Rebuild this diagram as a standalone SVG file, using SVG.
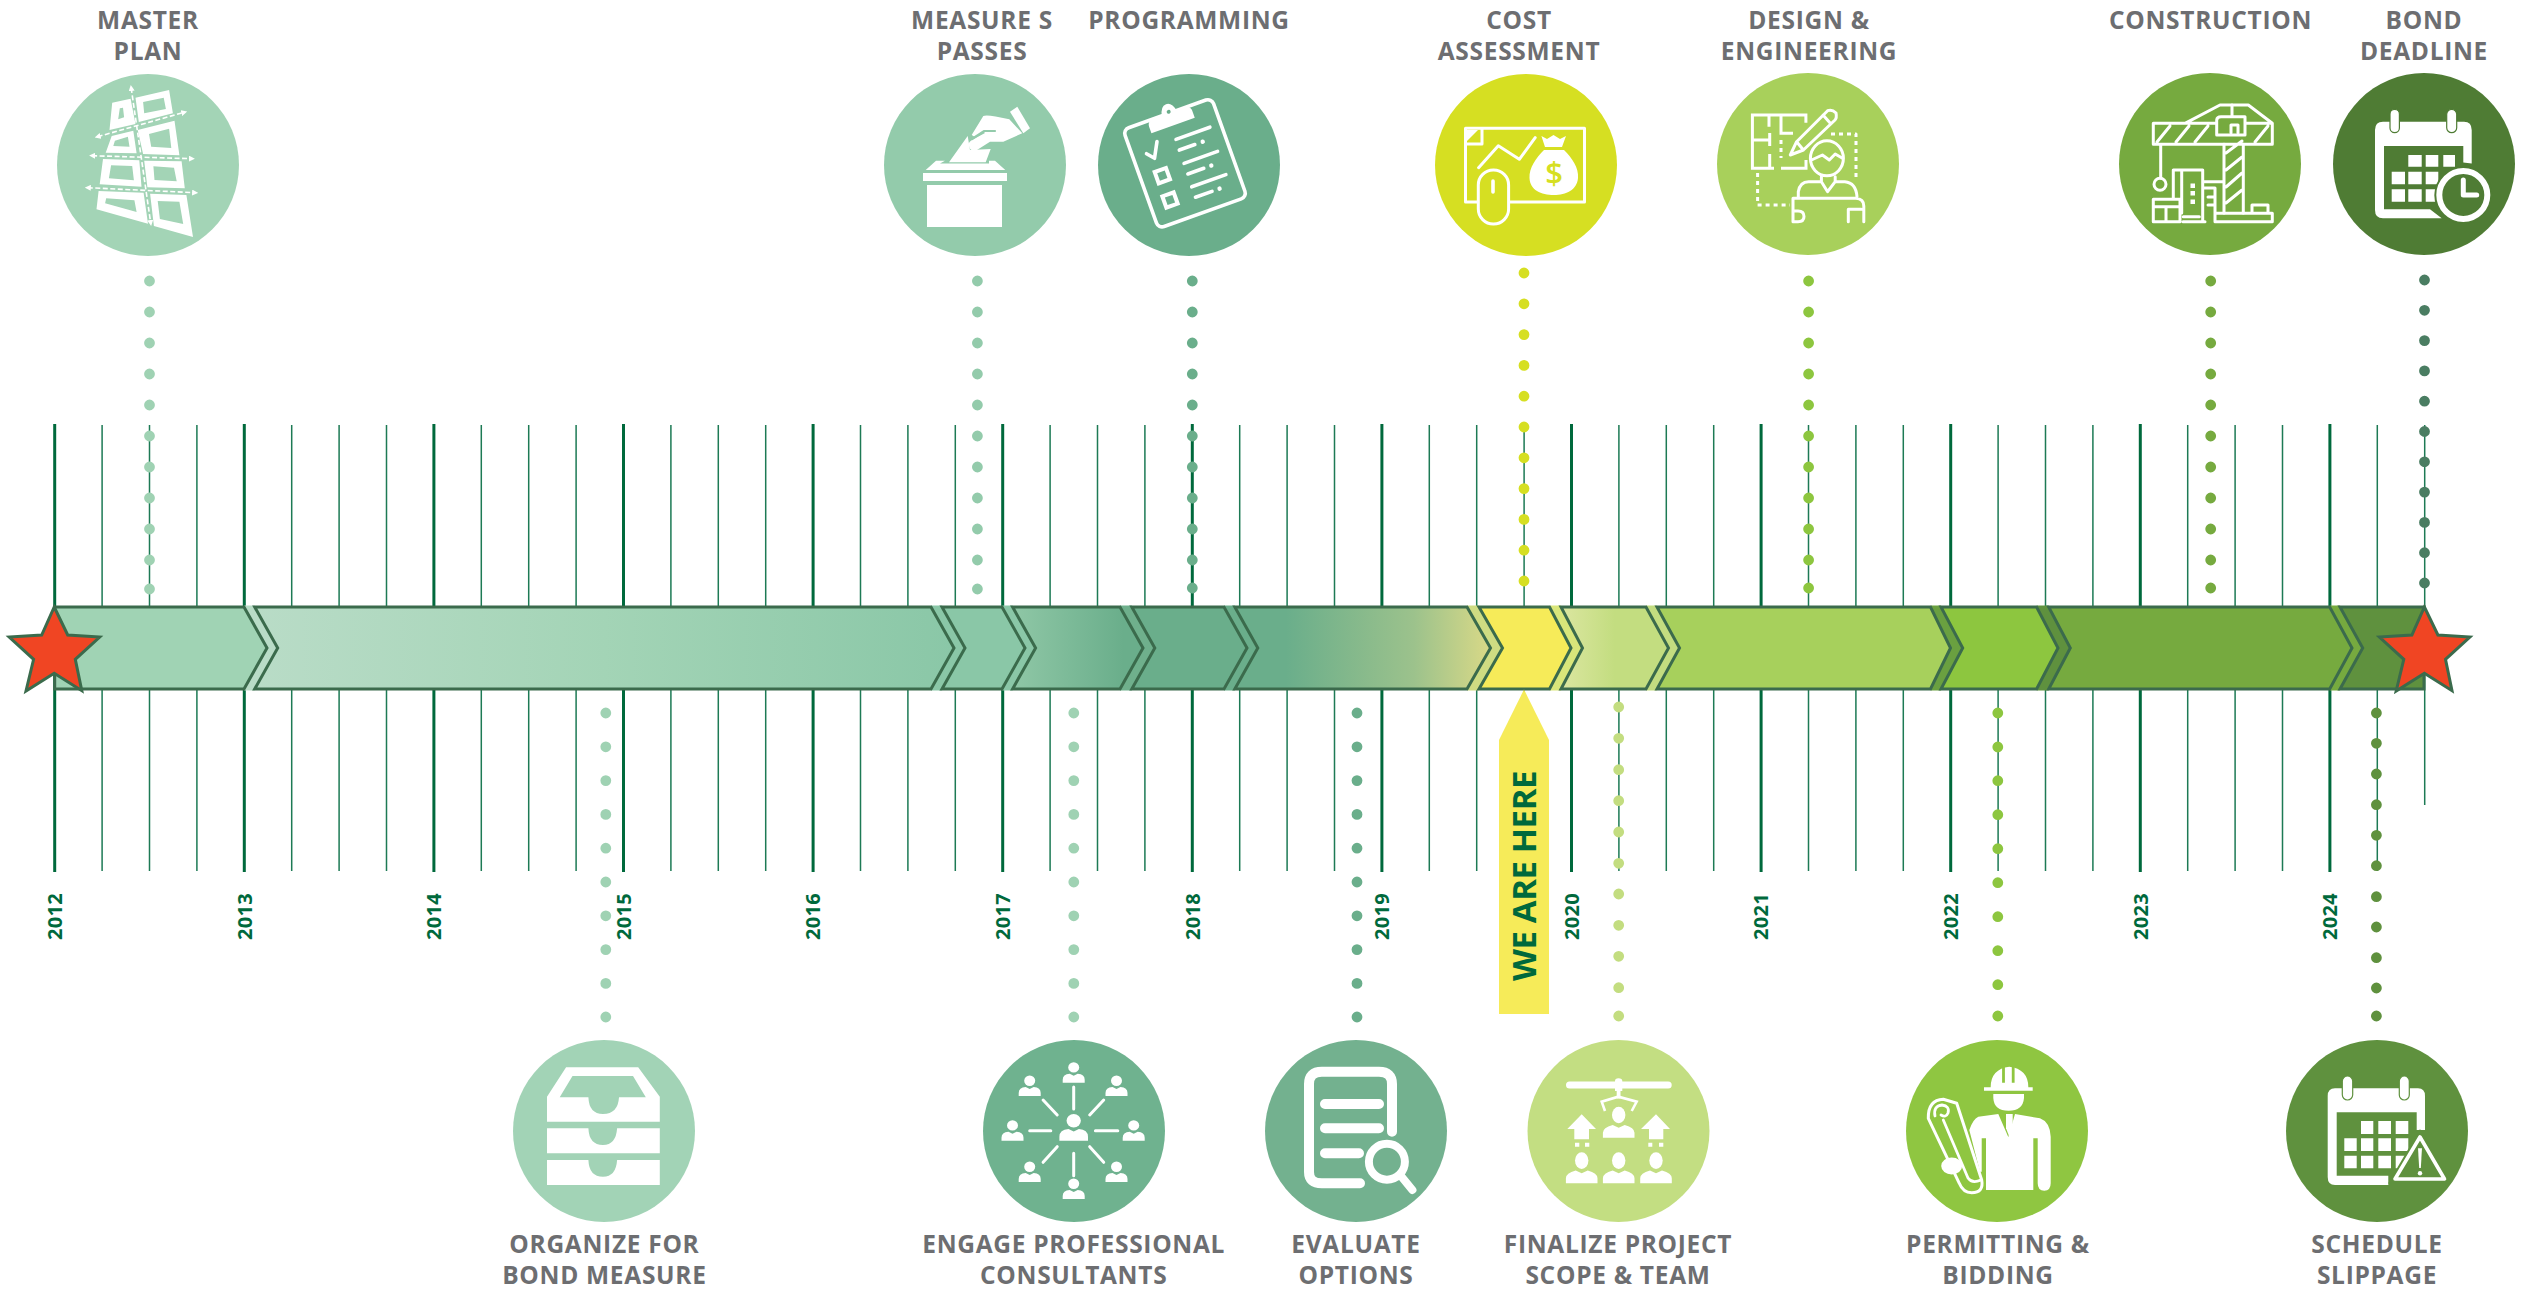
<svg xmlns="http://www.w3.org/2000/svg" width="2524" height="1289" viewBox="0 0 2524 1289">
<style>
text{font-family:"Open Sans","Liberation Sans",sans-serif;font-weight:700}
.lbl{font-size:24.5px;fill:#6d6e71;text-anchor:middle;letter-spacing:.7px}
.yr{font-size:20px;fill:#00693c;letter-spacing:.3px}
.chev{stroke:#3b6b4c;stroke-width:3;stroke-linejoin:miter}
.maj{stroke:#00693c;stroke-width:3;fill:none}
.min{stroke:#1d7a55;stroke-width:1.5;fill:none}
.dots{fill:none;stroke-width:10.8;stroke-linecap:round}
.w{fill:#fff}
.ln{fill:none;stroke:#fff;stroke-width:3;stroke-linecap:round;stroke-linejoin:round}
.road{fill:none;stroke:#fff;stroke-width:1.6;stroke-dasharray:5 2.5;marker-start:url(#ra);marker-end:url(#ra)}
</style>
<defs>
<linearGradient id="g2"><stop offset="0" stop-color="#b9dcc7"/><stop offset=".5" stop-color="#a3d4b6"/><stop offset="1" stop-color="#8ac7a7"/></linearGradient>
<linearGradient id="g4"><stop offset="0" stop-color="#8fc7a6"/><stop offset=".85" stop-color="#6aae8b"/><stop offset="1" stop-color="#6aae8b"/></linearGradient>
<linearGradient id="g6"><stop offset="0" stop-color="#6aae8b"/><stop offset=".2" stop-color="#6aae8b"/><stop offset=".7" stop-color="#9cc28c"/><stop offset="1" stop-color="#d9d987"/></linearGradient>
<linearGradient id="g8"><stop offset="0" stop-color="#dbe6a0"/><stop offset=".5" stop-color="#c3dd80"/></linearGradient>
<marker id="ra" viewBox="0 0 6 6" refX="3" refY="3" markerUnits="userSpaceOnUse" markerWidth="6" markerHeight="6" orient="auto-start-reverse"><path d="M0 0L6 3L0 6Z" fill="#fff"/></marker>
<g id="person"><ellipse cx="0" cy="-15.3" rx="5.5" ry="5.2" fill="#fff"/><path d="M-11 0V-3Q-11 -8.5 -4 -9L0 -7L4 -9Q11 -8.5 11 -3V0Z" fill="#fff"/></g>
<g id="person-lg"><ellipse cx="0" cy="-22.7" rx="6.7" ry="8.3" fill="#fff"/><path d="M-15.8 0V-5Q-15.8 -10 -6 -12.7L0 -10L6 -12.7Q15.8 -10 15.8 -5V0Z" fill="#fff"/></g>
<path id="star" d="M54.2 607L67.7 635L99.7 637L75.3 659.3L81.8 690.7L54.2 673.3L26 691L33.6 659.3L9.2 637L41.7 635Z" fill="#f04523" stroke="#3b6b4c" stroke-width="3" stroke-linejoin="miter"/>
</defs>

<g id="ticks">
<path class="min" d="M102.1 425V871M149.5 425V871M196.9 425V871M291.7 425V871M339.1 425V871M386.5 425V871M481.3 425V871M528.7 425V871M576.1 425V871M670.9 425V871M718.3 425V871M765.7 425V871M860.5 425V871M907.9 425V871M955.3 425V871M1050.1 425V871M1097.5 425V871M1144.9 425V871M1239.7 425V871M1287.1 425V871M1334.5 425V871M1429.3 425V871M1476.7 425V871M1524.1 425V871M1618.9 425V871M1666.3 425V871M1713.7 425V871M1808.5 425V871M1855.9 425V871M1903.3 425V871M1998.1 425V871M2045.5 425V871M2092.9 425V871M2187.7 425V871M2235.1 425V871M2282.5 425V871M2377.3 425V871M2424.7 425V805"/>
<path class="maj" d="M54.7 424V872M244.3 424V872M433.9 424V872M623.5 424V872M813.1 424V872M1002.7 424V872M1192.3 424V872M1381.9 424V872M1571.5 424V872M1761.1 424V872M1950.7 424V872M2140.3 424V872M2329.9 424V872"/>
</g>

<g id="years">
<text class="yr" transform="translate(62 940) rotate(-90)">2012</text>
<text class="yr" transform="translate(251.6 940) rotate(-90)">2013</text>
<text class="yr" transform="translate(441.2 940) rotate(-90)">2014</text>
<text class="yr" transform="translate(630.8 940) rotate(-90)">2015</text>
<text class="yr" transform="translate(820.4 940) rotate(-90)">2016</text>
<text class="yr" transform="translate(1010 940) rotate(-90)">2017</text>
<text class="yr" transform="translate(1199.6 940) rotate(-90)">2018</text>
<text class="yr" transform="translate(1389.2 940) rotate(-90)">2019</text>
<text class="yr" transform="translate(1578.8 940) rotate(-90)">2020</text>
<text class="yr" transform="translate(1768.4 940) rotate(-90)">2021</text>
<text class="yr" transform="translate(1958 940) rotate(-90)">2022</text>
<text class="yr" transform="translate(2147.6 940) rotate(-90)">2023</text>
<text class="yr" transform="translate(2337.2 940) rotate(-90)">2024</text>
</g>

<g id="connectors">
<path class="dots" stroke="#9fd2b3" d="M149.5 281h0M149.5 312h0M149.5 343h0M149.5 374h0M149.5 405h0M149.5 436h0M149.5 467h0M149.5 498h0M149.5 529h0M149.5 560h0M149.5 589h0"/>
<path class="dots" stroke="#93cbab" d="M977.4 281h0M977.4 312h0M977.4 343h0M977.4 374h0M977.4 405h0M977.4 436h0M977.4 467h0M977.4 498h0M977.4 529h0M977.4 560h0M977.4 589h0"/>
<path class="dots" stroke="#6aae8b" d="M1192.3 281h0M1192.3 312h0M1192.3 343h0M1192.3 374h0M1192.3 405h0M1192.3 436h0M1192.3 467h0M1192.3 498h0M1192.3 529h0M1192.3 560h0M1192.3 588h0"/>
<path class="dots" stroke="#d6df22" d="M1524 273h0M1524 303.8h0M1524 334.6h0M1524 365.4h0M1524 396.2h0M1524 427h0M1524 457.8h0M1524 488.6h0M1524 519.4h0M1524 550.2h0M1524 581h0"/>
<path class="dots" stroke="#8dc63f" d="M1808.6 281h0M1808.6 312h0M1808.6 343h0M1808.6 374h0M1808.6 405h0M1808.6 436h0M1808.6 467h0M1808.6 498h0M1808.6 529h0M1808.6 560h0M1808.6 588h0"/>
<path class="dots" stroke="#76aa3f" d="M2210.7 281h0M2210.7 312h0M2210.7 343h0M2210.7 374h0M2210.7 405h0M2210.7 436h0M2210.7 467h0M2210.7 498h0M2210.7 529h0M2210.7 560h0M2210.7 588h0"/>
<path class="dots" stroke="#4a7d62" d="M2424.5 280h0M2424.5 310.3h0M2424.5 340.6h0M2424.5 370.9h0M2424.5 401.2h0M2424.5 431.5h0M2424.5 461.8h0M2424.5 492.1h0M2424.5 522.4h0M2424.5 552.7h0M2424.5 583h0"/>
<path class="dots" stroke="#9fd2b3" d="M605.8 713h0M605.8 746.8h0M605.8 780.6h0M605.8 814.4h0M605.8 848.2h0M605.8 882h0M605.8 915.8h0M605.8 949.6h0M605.8 983.4h0M605.8 1017h0"/>
<path class="dots" stroke="#9fd2b3" d="M1073.8 713h0M1073.8 746.8h0M1073.8 780.6h0M1073.8 814.4h0M1073.8 848.2h0M1073.8 882h0M1073.8 915.8h0M1073.8 949.6h0M1073.8 983.4h0M1073.8 1017h0"/>
<path class="dots" stroke="#6aae8b" d="M1357 713h0M1357 746.8h0M1357 780.6h0M1357 814.4h0M1357 848.2h0M1357 882h0M1357 915.8h0M1357 949.6h0M1357 983.4h0M1357 1017h0"/>
<path class="dots" stroke="#c3dd80" d="M1618.7 707h0M1618.7 738.3h0M1618.7 769.7h0M1618.7 800.7h0M1618.7 832h0M1618.7 863.3h0M1618.7 894h0M1618.7 925.3h0M1618.7 956.3h0M1618.7 987.7h0M1618.7 1016h0"/>
<path class="dots" stroke="#8dc63f" d="M1997.8 713h0M1997.8 747h0M1997.8 780.7h0M1997.8 814.7h0M1997.8 848.7h0M1997.8 882.7h0M1997.8 916.7h0M1997.8 950.7h0M1997.8 984.7h0M1997.8 1016h0"/>
<path class="dots" stroke="#5f913e" d="M2376.4 713h0M2376.4 743.3h0M2376.4 774h0M2376.4 804.7h0M2376.4 835.3h0M2376.4 865.7h0M2376.4 896.7h0M2376.4 927h0M2376.4 957.7h0M2376.4 988h0M2376.4 1016h0"/>
</g>

<g id="timeline-bar">
<path fill="#b9dcc7" d="M244 605.5H254.7L277.7 648L254.7 690.5H244L267 648Z"/>
<path fill="#8ac7a7" d="M931 605.5H942L965 648L942 690.5H931L954 648Z"/>
<path fill="#8ac7a7" d="M1002 605.5H1012.6L1035.6 648L1012.6 690.5H1002L1025 648Z"/>
<path fill="#6fb08c" d="M1120 605.5H1131.8L1154.8 648L1131.8 690.5H1120L1143 648Z"/>
<path fill="#6aae8b" d="M1224 605.5H1234.8L1257.8 648L1234.8 690.5H1224L1247 648Z"/>
<path fill="#cfdc82" d="M1467 605.5H1479L1502.5 648L1479 690.5H1467L1490.5 648Z"/>
<path fill="#d9e67a" d="M1549.5 605.5H1561L1582.5 648L1561 690.5H1549.5L1571 648Z"/>
<path fill="#c3dd80" d="M1646 605.5H1657L1679.5 648L1657 690.5H1646L1668.5 648Z"/>
<path fill="#6aa040" d="M1930.5 605.5H1941L1962.7 648L1941 690.5H1930.5L1950.5 648Z"/>
<path fill="#5f913e" d="M2036.6 605.5H2048.7L2070.3 648L2048.7 690.5H2036.6L2058 648Z"/>
<path fill="#76aa3f" d="M2329.7 605.5H2340L2362.7 648L2340 690.5H2329.7L2352 648Z"/>
<path class="chev" fill="#a0d3b4" d="M54.7 607H244L267 648L244 689H54.7Z"/>
<path class="chev" fill="url(#g2)" d="M254.7 607H931L954 648L931 689H254.7L277.7 648Z"/>
<path class="chev" fill="#8ac7a7" d="M942 607H1002L1025 648L1002 689H942L965 648Z"/>
<path class="chev" fill="url(#g4)" d="M1012.6 607H1120L1143 648L1120 689H1012.6L1035.6 648Z"/>
<path class="chev" fill="#6aae8b" d="M1131.8 607H1224L1247 648L1224 689H1131.8L1154.8 648Z"/>
<path class="chev" fill="url(#g6)" d="M1234.8 607H1467L1490.5 648L1467 689H1234.8L1257.8 648Z"/>
<path class="chev" fill="#f6eb59" d="M1479 607H1549.5L1571 648L1549.5 689H1479L1502.5 648Z"/>
<path class="chev" fill="url(#g8)" d="M1561 607H1646L1668.5 648L1646 689H1561L1582.5 648Z"/>
<path class="chev" fill="#a7d05c" d="M1657 607H1930.5L1950.5 648L1930.5 689H1657L1679.5 648Z"/>
<path class="chev" fill="#8dc63f" d="M1941 607H2036.6L2058 648L2036.6 689H1941L1962.7 648Z"/>
<path class="chev" fill="#76aa3f" d="M2048.7 607H2329.7L2352 648L2329.7 689H2048.7L2070.3 648Z"/>
<path class="chev" fill="#5f913e" d="M2340 607H2424V689H2340L2362.7 648Z"/>
<use href="#star" id="star-start"/>
<use href="#star" id="star-end" x="2370.2"/>
</g>

<g id="we-are-here">
<path fill="#f6eb59" d="M1524 689.5L1549 740V1014H1499V740Z"/>
<text transform="translate(1536 981) rotate(-90)" font-size="33" fill="#00693c" letter-spacing="-.4">WE ARE HERE</text>
</g>

<g id="node-master-plan">
<text class="lbl" x="148" y="29">MASTER</text><text class="lbl" x="148" y="59.5">PLAN</text>
<circle cx="148" cy="165" r="91" fill="#a3d4b6"/>
<path class="w" fill-rule="evenodd" d="M112.2 102.7L130.6 98.7L135.5 124L109.5 130ZM119.8 108.3L123 107.7L124.1 117.3L118.2 119.3Z M135.5 97.7L169.1 90L172.9 113.3L138.8 122ZM143.1 102L163.7 97.7L165.9 109L144.2 113.3Z M111.7 136L133.3 130.7L136.6 153.3L105.7 152.7ZM114.9 140.7L127.9 136.7L129.5 146.7L113.3 146Z M137.7 130L174.5 120.7L179.4 155.3L143.1 154ZM149 134L169.1 128.7L171.3 148L151.2 146.7Z M103 159L139.3 160.3L141.5 186.7L99.7 184.3ZM111.1 165.3L132.2 166L133.9 180.3L108.9 178.3Z M144.2 160.7L181.6 161.3L184.8 188.3L147.4 187.3ZM153.4 166.3L174 167.7L176.7 181.3L154.5 180Z M98.6 191L143.6 192.7L148 223.7L96.5 209.3ZM106.2 198.3L134.4 200.3L136.6 212L105.1 203.3Z M150.1 193.7L186.4 195L193 237L153.9 226ZM157.7 201L179.4 201.7L183.2 224L159.9 219Z"/>
<path class="road" d="M131.2 88L150.7 223"/><path class="road" d="M97.6 136.7L184.3 112.3"/><path class="road" d="M92.1 155.7L191.9 158.7"/><path class="road" d="M87.8 187.7L195.1 192.7"/>
</g>

<g id="node-measure-s">
<text class="lbl" x="982" y="29">MEASURE S</text><text class="lbl" x="982" y="59.5">PASSES</text>
<circle cx="975" cy="165" r="91" fill="#93cbab"/>
<path class="w" d="M927 185H1002V227H927ZM923 173H1007V181H923ZM925.7 170L936 160.7H945L940 163.5H989V160.7H995L1005.3 170Z"/>
<path class="w" d="M967.7 136L949 162.3H985.7L990.7 149L970 150Z"/>
<path class="w" d="M971.7 135L983.3 116Q987 114 1009.3 119.3L1022.3 133.3L1003.3 141.7H990L977 150Q970 152 969 146Q968 142 972 140L985 133L983 131L975 137Z"/>
<path class="w" d="M1010 111.7L1017.3 106.7L1030 128.3L1023.3 133.3Z"/>
<path fill="none" stroke="#93cbab" stroke-width="2.2" stroke-linecap="round" d="M995 131L984 131L972 139"/>
</g>

<g id="node-programming">
<text class="lbl" x="1189" y="29">PROGRAMMING</text>
<circle cx="1189" cy="165" r="91" fill="#6aae8b"/>
<g transform="translate(1185 163.3) rotate(-19.7)">
<rect x="-47" y="-52.5" width="94" height="105" rx="6" fill="none" stroke="#fff" stroke-width="3.6"/>
<path class="w" d="M-21.5 -39.5H24.5V-48Q24 -52 19 -52H10Q8 -62 2 -62Q-4 -62 -6 -52H-16Q-21 -52 -21.5 -47Z"/>
<circle cx="2" cy="-54" r="2" fill="#6aae8b"/>
<path class="ln" style="stroke-width:3.6" d="M-33 -22L-27 -15L-19 -30"/>
<rect x="-31.5" y="-2" width="12" height="12" fill="none" stroke="#fff" stroke-width="4"/>
<rect x="-32.5" y="23.5" width="12" height="12" fill="none" stroke="#fff" stroke-width="4"/>
<path class="ln" style="stroke-width:3.6" d="M-.4 -25.6H35.6M-.9 -14.4H15.6M-.9 -.3H34.7M-.9 11H16M-1.6 24.4H34.7M-1.6 35.5H16"/>
<circle cx="24" cy="-14.4" r="2.2" class="w"/><circle cx="24" cy="11" r="2.2" class="w"/><circle cx="24" cy="35.5" r="2.2" class="w"/>
</g>
</g>

<g id="node-cost-assessment">
<text class="lbl" x="1519" y="29">COST</text><text class="lbl" x="1519" y="59.5">ASSESSMENT</text>
<circle cx="1526" cy="165" r="91" fill="#d6df22"/>
<path class="ln" d="M1465.5 128.3H1584.5V202H1465.5ZM1478.6 167.7L1498.3 145.7L1519.3 159.3L1535.2 137.7M1465.5 144H1482V128.3"/>
<path class="w" d="M1467 130H1478L1467 141Z"/>
<rect x="1478.3" y="170" width="30.3" height="54" rx="15" fill="#d6df22" stroke="#fff" stroke-width="3"/>
<path class="ln" style="stroke-width:3.6" d="M1493 181V192"/>
<path class="w" d="M1544 150H1564C1572 158 1579 168 1578 178C1577 190 1566 195 1554 195C1541 195 1530 190 1529.5 178C1529 168 1536 158 1544 150ZM1541.4 136L1547 139L1553.5 135L1560 139L1566 136L1562 147H1545Z"/>
<text x="1554" y="184" font-size="31" fill="#d6df22" text-anchor="middle" style="font-weight:600">$</text>
</g>

<g id="node-design-engineering">
<text class="lbl" x="1809" y="29">DESIGN &amp;</text><text class="lbl" x="1809" y="59.5">ENGINEERING</text>
<circle cx="1808" cy="164" r="91" fill="#a8d05b"/>
<path class="ln" style="stroke-linecap:butt;stroke-linejoin:miter" d="M1805.9 122.7V115H1752.4V168.3H1774M1769 115V126.7M1781 115V133.3H1793M1752.4 140H1770.7M1769.7 133V146M1769.7 154V168.3M1781 168.3H1806V160"/>
<path class="ln" style="stroke-linecap:butt;stroke-dasharray:4 4" d="M1781 140V158M1831 134H1856V180M1757.6 173V205H1790"/>
<path class="ln" d="M1790.3 155L1796.6 141.7L1827.6 110.7Q1832 109 1836 113Q1837 118 1835 120L1803.4 150ZM1796.6 141.7L1803.4 150M1823 115L1831 124"/>
<ellipse cx="1826.9" cy="158.3" rx="16.5" ry="17.5" fill="none" stroke="#fff" stroke-width="3"/>
<path class="ln" d="M1811.5 160L1822.4 155L1829.3 160L1835.2 154L1842.5 158.3M1821.4 176.7V181.7L1827.6 191.7L1835.2 181.7V176.7M1798.3 196.7V191.7Q1800 181.7 1808.6 181.7H1821.4M1835.2 181.7H1844.8Q1856 182.7 1857 196.7M1793 221.7V198.3H1856Q1863.8 199 1863.8 206V221.7M1848.3 221.7V209.3H1861.4M1793 211H1798Q1804 211 1804 216.5Q1804 221.7 1798 221.7H1793"/>
</g>

<g id="node-construction">
<text class="lbl" x="2210.5" y="29">CONSTRUCTION</text>
<circle cx="2210" cy="164" r="91" fill="#76aa3f"/>
<path class="ln" d="M2153.3 123.3H2272.3V144.3H2153.3ZM2185 123.3L2220 105H2248.3L2272.3 123.3M2157 142L2170 126M2176 142L2189 126M2195 142L2208 126M2255 142L2268 126M2224 144V213M2243.3 144V213M2226 153L2242 141M2226 170L2242 157M2226 187L2242 173M2226 203L2242 190M2160.7 144.3V178"/>
<path d="M2216.7 135V120Q2217 116.7 2221 116.7H2245V135Z" fill="#76aa3f" stroke="#fff" stroke-width="3" stroke-linejoin="round"/>
<path class="ln" d="M2231 133V125H2238V133M2232 105V116"/>
<circle cx="2160" cy="184.3" r="6" fill="none" stroke="#fff" stroke-width="3"/>
<path class="ln" d="M2215 213.3H2272.3V221.7H2215ZM2252 213V205H2268V213M2173.3 199V170H2202.7V221M2181.7 171V213M2202.7 181.7H2223M2202.7 188H2215V213M2208 197H2215M2208 205H2215M2153.3 199.3H2180V221.7H2153.3ZM2153.3 206.7H2180M2166 207V221M2183.3 216.7H2199.3M2183 221.7H2205"/>
<path class="w" d="M2190.5 183.5H2195V188H2190.5ZM2190.5 191H2195V195.5H2190.5ZM2190.5 199.5H2195V204H2190.5Z"/>
</g>

<g id="node-bond-deadline">
<text class="lbl" x="2424" y="29">BOND</text><text class="lbl" x="2424" y="59.5">DEADLINE</text>
<circle cx="2424" cy="164" r="91" fill="#4f7c34"/>
<path class="w" d="M2383 121.7H2464Q2471.7 121.7 2471.7 130V163.5L2463.3 162.5V146H2384V209.3H2430L2441.7 218.3H2383Q2375 218.3 2375 210V130Q2375 121.7 2383 121.7Z"/>
<rect x="2390" y="109.3" width="9.4" height="23.4" rx="4.7" fill="#fff" stroke="#4f7c34" stroke-width="1.2"/>
<rect x="2446.7" y="109.3" width="10" height="23.4" rx="5" fill="#fff" stroke="#4f7c34" stroke-width="1.2"/>
<path class="w" d="M2408.3 155H2421.7V166.7H2408.3ZM2425.7 155H2438.3V166.7H2425.7ZM2443.3 155H2455V166.7H2443.3ZM2391.7 171.7H2405V184.3H2391.7ZM2408.3 171.7H2421.7V184.3H2408.3ZM2425.7 171.7H2438.3V184.3H2425.7ZM2391.7 189.3H2405V201.7H2391.7ZM2408.3 189.3H2421.7V201.7H2408.3ZM2425.7 189.3H2438.3V201.7H2425.7Z"/>
<circle cx="2463.3" cy="195" r="29" fill="#4f7c34"/>
<circle cx="2463.3" cy="195" r="24" fill="none" stroke="#fff" stroke-width="6"/>
<path class="ln" style="stroke-width:5" d="M2463.3 180V195H2476.7"/>
</g>

<g id="node-organize">
<circle cx="604" cy="1131" r="91" fill="#a2d3b6"/>
<path class="w" fill-rule="evenodd" d="M566.1 1067.3H638.2L659.8 1096.7V1121.7H547V1096.7ZM572.5 1076L559.7 1097.3H588.4Q589 1114 603 1114Q618 1114 619 1097.3H645.8L633 1076Z"/>
<path class="w" d="M547 1128.3H588.4Q589 1145 603 1145Q616 1145 617.1 1128.3H659.8V1153.3H547ZM547 1160H588.4Q589 1176.7 603 1176.7Q616 1176.7 617.1 1160H659.8V1185H547Z"/>
<text class="lbl" x="604.4" y="1252.7">ORGANIZE FOR</text><text class="lbl" x="604.4" y="1283.5">BOND MEASURE</text>
</g>

<g id="node-engage">
<circle cx="1074" cy="1131" r="91" fill="#6fb28f"/>
<use href="#person" x="1073.7" y="1082.7"/><use href="#person" x="1029.7" y="1096"/><use href="#person" x="1116.5" y="1096"/>
<use href="#person" x="1012.5" y="1140.7"/><use href="#person" x="1133.7" y="1140.7"/><use href="#person" x="1029.7" y="1182"/>
<use href="#person" x="1116.5" y="1182"/><use href="#person" x="1073.7" y="1199"/>
<use href="#person" transform="translate(1073.7 1140.7) scale(1.3)"/>
<path class="ln" d="M1073.7 1087V1109M1073.7 1153.3V1175.7M1029.7 1130.7H1050.8M1095.4 1130.7H1117.8M1043.1 1100L1057.2 1115M1103.7 1100L1089.7 1115M1057.2 1146.7L1043.1 1162.3M1089.7 1146.7L1103.7 1162.3"/>
<text class="lbl" x="1073.7" y="1252.7">ENGAGE PROFESSIONAL</text><text class="lbl" x="1073.7" y="1283.5">CONSULTANTS</text>
</g>

<g id="node-evaluate">
<circle cx="1356" cy="1131" r="91" fill="#73b18f"/>
<path class="ln" style="stroke-width:10" d="M1360 1183.3H1321.8Q1309 1183.3 1309 1172V1084Q1309 1071.7 1321.8 1071.7H1379Q1392 1071.7 1392 1084V1131.7M1325 1104H1379M1325 1128.3H1379M1325 1153.3H1359"/>
<circle cx="1386.9" cy="1161.7" r="18" fill="none" stroke="#fff" stroke-width="8"/>
<path class="ln" style="stroke-width:8" d="M1401.6 1176.7L1412.4 1190"/>
<text class="lbl" x="1356" y="1252.7">EVALUATE</text><text class="lbl" x="1356" y="1283.5">OPTIONS</text>
</g>

<g id="node-finalize">
<circle cx="1618.5" cy="1131" r="91" fill="#c3de82"/>
<path class="ln" style="stroke-width:7" d="M1569.5 1085H1668.2"/>
<path class="w" d="M1615 1081Q1615 1078.3 1618.5 1078.3Q1622.3 1078.3 1622.3 1081V1091H1620.5V1098.5H1616.7V1091H1615Z"/>
<path class="ln" style="stroke-width:2.6;stroke-linecap:butt;stroke-linejoin:miter" d="M1605 1111L1601.7 1101.7L1618.3 1096.7L1636.7 1101.7L1631.7 1111"/>
<use href="#person-lg" x="1618.7" y="1137.7"/>
<use href="#person-lg" x="1581.7" y="1183.3"/>
<use href="#person-lg" x="1618.7" y="1183.3"/>
<use href="#person-lg" x="1656" y="1183.3"/>
<path class="w" d="M1581.7 1114.3L1596 1129H1589V1139.3H1574.3V1129H1567.3ZM1656 1114.3L1670 1129H1663.3V1139.3H1649V1129H1641ZM1575 1142.7H1579.3V1146.7H1575ZM1585 1142.7H1589.3V1146.7H1585ZM1648.3 1142.7H1652.3V1146.7H1648.3ZM1659 1142.7H1663.3V1146.7H1659Z"/>
<text class="lbl" x="1618" y="1252.7">FINALIZE PROJECT</text><text class="lbl" x="1618" y="1283.5">SCOPE &amp; TEAM</text>
</g>

<g id="node-permitting">
<circle cx="1997" cy="1131" r="91" fill="#8fc641"/>
<path class="w" d="M1990.7 1086.7Q1991 1069 2009.3 1066.7Q2028 1069 2028.3 1086.7V1087.3H2032.7V1090.7H1984V1087.3H1990.7ZM1993.3 1094H2024V1098Q2023 1110.7 2008.6 1110.7Q1994 1110.7 1993.3 1098Z"/>
<path fill="none" stroke="#8fc641" stroke-width="2.8" d="M2003.5 1066V1082.7M2013.2 1066V1082.7"/>
<path class="w" d="M1969.3 1130Q1973 1119 1978.3 1116.7L1998.3 1114L2008.3 1137L2015 1114L2040 1118.3Q2050 1122 2050.7 1136.7V1183.3Q2050.7 1190.7 2044.3 1190.7Q2037.7 1190.7 2037.7 1183.3V1138.3H2033.3V1190H1986V1138.3H1981.7V1171.7H1980Z"/>
<path class="w" d="M2006 1114H2012.7V1128.3L2009.3 1136.7L2006 1128.3Z"/>
<path d="M1928.3 1118.3Q1928 1100 1943.3 1099.3L1956.7 1103.3L1981.7 1180Q1984 1192.7 1971.7 1192.7Q1963 1192.7 1959.3 1183.3Z" fill="#8fc641" stroke="#fff" stroke-width="3" stroke-linejoin="round"/>
<path class="ln" style="stroke-width:2.8" d="M1943.3 1120L1968 1178Q1972 1184 1981 1180M1935 1116Q1933 1106 1942 1105Q1950 1106 1948 1113Q1946 1118 1941 1115"/>
<ellipse cx="1951.7" cy="1166" rx="10.5" ry="8.5" class="w"/>
<text class="lbl" x="1998" y="1252.7">PERMITTING &amp;</text><text class="lbl" x="1998" y="1283.5">BIDDING</text>
</g>

<g id="node-schedule">
<circle cx="2377" cy="1131" r="91" fill="#5f913e"/>
<path class="w" d="M2335 1088.3H2418Q2425 1088.3 2425 1096V1130L2416.7 1130V1112.3H2336.7V1175.7H2388.3V1185H2335Q2327.7 1185 2327.7 1177V1096Q2327.7 1088.3 2335 1088.3Z"/>
<rect x="2342.3" y="1076" width="10.4" height="24" rx="5.2" fill="#fff" stroke="#5f913e" stroke-width="1.2"/>
<rect x="2399.3" y="1076" width="10" height="24" rx="5" fill="#fff" stroke="#5f913e" stroke-width="1.2"/>
<path class="w" d="M2361 1121H2373.3V1134H2361ZM2378.3 1121H2391V1134H2378.3ZM2395.7 1121H2408.3V1134H2395.7ZM2344.3 1138.3H2356.7V1151H2344.3ZM2361 1138.3H2373.3V1151H2361ZM2378.3 1138.3H2391V1151H2378.3ZM2395.7 1138.3H2408.3V1151H2395.7ZM2344.3 1155.7H2356.7V1168.3H2344.3ZM2361 1155.7H2373.3V1168.3H2361ZM2378.3 1155.7H2391V1168.3H2378.3ZM2395.7 1155.7H2408.3V1168.3H2395.7Z"/>
<path d="M2420 1129L2451 1183.5H2388Z" fill="#5f913e"/>
<path d="M2420 1137L2444.5 1179H2395Z" fill="#5f913e" stroke="#fff" stroke-width="3.6" stroke-linejoin="round"/>
<path class="w" d="M2418 1148.3H2422L2420.8 1168H2419.2Z"/><circle cx="2420" cy="1173.3" r="2.2" class="w"/>
<text class="lbl" x="2377" y="1252.7">SCHEDULE</text><text class="lbl" x="2377" y="1283.5">SLIPPAGE</text>
</g>
</svg>
